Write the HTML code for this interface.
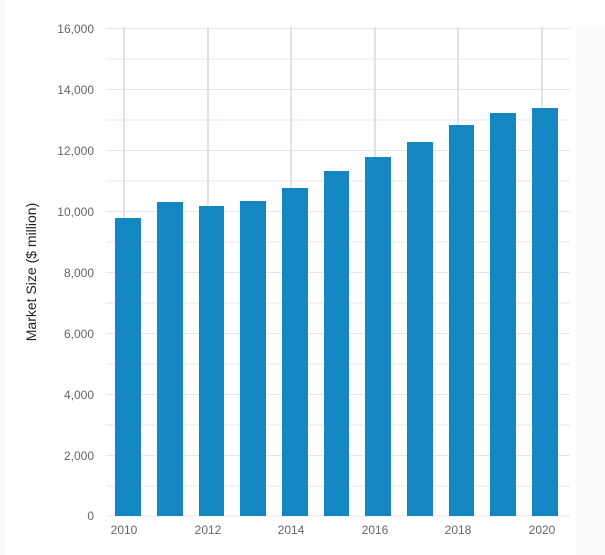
<!DOCTYPE html>
<html><head><style>
body{margin:0;background:#fff;}
svg{display:block;font-family:"Liberation Sans",sans-serif;}
</style></head><body>
<svg width="605" height="555" viewBox="0 0 605 555">
<rect x="0" y="0" width="605" height="555" fill="#fff"/>
<rect x="0" y="0" width="5" height="555" fill="#f9f9f9"/>
<rect x="576" y="28" width="29" height="527" fill="#fbfafb"/>
<g stroke="#ebe4e6" stroke-width="1">
<line x1="106" x2="570" y1="28.5" y2="28.5"/><line x1="106" x2="570" y1="59" y2="59"/>
<line x1="106" x2="570" y1="89.5" y2="89.5"/><line x1="106" x2="570" y1="120" y2="120"/>
<line x1="106" x2="570" y1="150.5" y2="150.5"/><line x1="106" x2="570" y1="181" y2="181"/>
<line x1="106" x2="570" y1="211.5" y2="211.5"/><line x1="106" x2="570" y1="242" y2="242"/>
<line x1="106" x2="570" y1="272.5" y2="272.5"/><line x1="106" x2="570" y1="303" y2="303"/>
<line x1="106" x2="570" y1="333.5" y2="333.5"/><line x1="106" x2="570" y1="364" y2="364"/>
<line x1="106" x2="570" y1="394.5" y2="394.5"/><line x1="106" x2="570" y1="425" y2="425"/>
<line x1="106" x2="570" y1="455.5" y2="455.5"/><line x1="106" x2="570" y1="486" y2="486"/>
<line x1="106" x2="570" y1="516" y2="516"/>
</g>
<g stroke="#dcd7da" stroke-width="1.5">
<line x1="124" x2="124" y1="27" y2="516"/><line x1="208" x2="208" y1="27" y2="516"/>
<line x1="291" x2="291" y1="27" y2="516"/><line x1="375" x2="375" y1="27" y2="516"/>
<line x1="458" x2="458" y1="27" y2="516"/><line x1="542" x2="542" y1="27" y2="516"/>
</g>
<g fill="#1487c2">
<rect x="115" y="218" width="26" height="298"/>
<rect x="157" y="202" width="26" height="314"/>
<rect x="199" y="206" width="25" height="310"/>
<rect x="240" y="201" width="26" height="315"/>
<rect x="282" y="188" width="26" height="328"/>
<rect x="324" y="171" width="25" height="345"/>
<rect x="365" y="157" width="26" height="359"/>
<rect x="407" y="142" width="26" height="374"/>
<rect x="449" y="125" width="25" height="391"/>
<rect x="490" y="113" width="26" height="403"/>
<rect x="532" y="108" width="26" height="408"/>
</g>
<g fill="#666" font-size="12" text-anchor="end">
<text x="94" y="33">16,000</text><text x="94" y="94">14,000</text>
<text x="94" y="155">12,000</text><text x="94" y="216">10,000</text>
<text x="94" y="277">8,000</text><text x="94" y="338">6,000</text>
<text x="94" y="399">4,000</text><text x="94" y="460">2,000</text>
<text x="94" y="520">0</text>
</g>
<g fill="#666" font-size="12" text-anchor="middle">
<text x="124" y="534">2010</text><text x="208" y="534">2012</text>
<text x="291" y="534">2014</text><text x="375" y="534">2016</text>
<text x="458" y="534">2018</text><text x="542" y="534">2020</text>
</g>
<text transform="translate(36,272) rotate(-90)" text-anchor="middle" font-size="14" fill="#222">Market Size ($ million)</text>
</svg>
</body></html>
